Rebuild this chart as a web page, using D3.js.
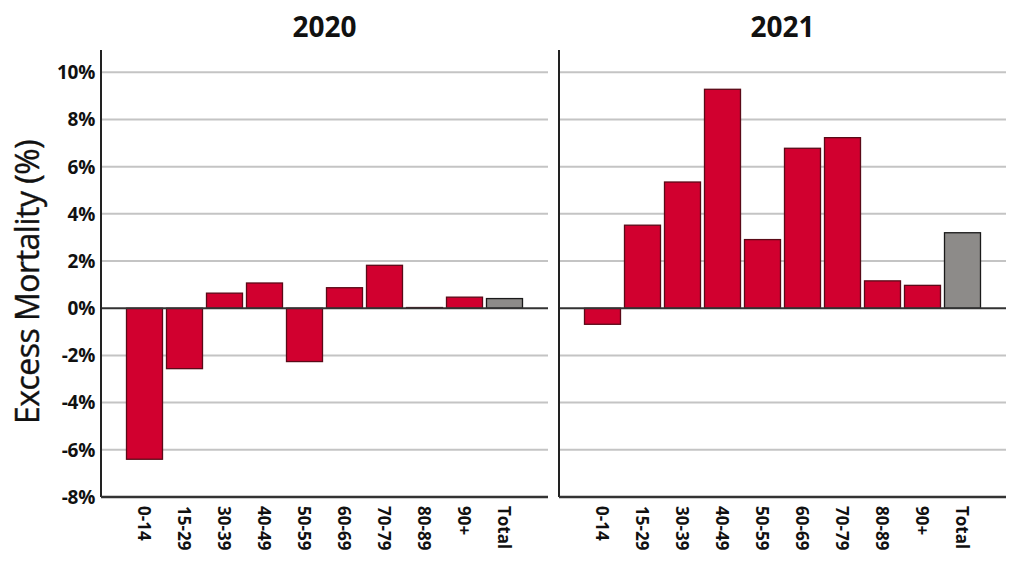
<!DOCTYPE html>
<html>
<head>
<meta charset="utf-8">
<script src="https://cdn.jsdelivr.net/npm/d3@7"></script>
<style>
  body { margin: 0; background: #fff; }
  text { font-family: "Open Sans", "Noto Sans", sans-serif; }
</style>
</head>
<body>
<div id="chart"></div>
<script>
const width = 1024;
const height = 573;

// data
const ageGroups = ["0-14", "15-29", "30-39", "40-49", "50-59", "60-69", "70-79", "80-89", "90+", "Total"];
const years = ["2020", "2021"];
const excess2020 = [-6.4, -2.56, 0.64, 1.07, -2.26, 0.87, 1.82, 0.03, 0.47, 0.41];
const excess2021 = [-0.68, 3.52, 5.35, 9.28, 2.91, 6.78, 7.23, 1.16, 0.97, 3.2];
const yTicks = [-8, -6, -4, -2, 0, 2, 4, 6, 8, 10];

const panelLeft = [101, 559];
const panelWidth = 447;
const plotTop = 50;
const plotBottom = 497;

const svg = d3.select("#chart").append("svg")
    .attr("width", width)
    .attr("height", height);

const y = d3.scaleLinear()
    .domain([-8, 10])
    .range([plotBottom, 72.3]);

// y axis labels (shared, left of first panel)
svg.append("g")
    .selectAll("text")
    .data(yTicks)
    .enter().append("text")
    .attr("x", 95)
    .attr("y", d => y(d))
    .attr("dy", "0.36em")
    .attr("text-anchor", "end")
    .style("font-size", "19px")
    .style("font-weight", "bold")
    .style("letter-spacing", "-0.3px")
    .style("fill", "#111")
    .text(d => d + "%");

svg.append("text")
    .attr("transform", "translate(39,282) rotate(-90)")
    .attr("text-anchor", "middle")
    .style("font-size", "32px")
    .style("fill", "#111")
    .style("stroke", "#111")
    .style("stroke-width", 0.4)
    .style("letter-spacing", "-0.5px")
    .text("Excess Mortality (%)");

const seriesByYear = [excess2020, excess2021];

years.forEach(function(year, i) {
    const x0 = panelLeft[i];
    const x = d3.scaleBand()
        .domain(ageGroups)
        .range([x0 + 23.5, x0 + panelWidth - 23.5])
        .paddingInner(0.1)
        .paddingOuter(0.05);

    const g = svg.append("g");

    // grid
    g.append("g")
        .selectAll("line")
        .data(yTicks.filter(d => d !== 0 && d !== -8))
        .enter().append("line")
        .attr("x1", x0)
        .attr("x2", x0 + panelWidth)
        .attr("y1", d => y(d))
        .attr("y2", d => y(d))
        .style("stroke", "#c4c4c4")
        .style("stroke-width", 2);

    const rows = ageGroups.map((a, j) => ({ group: a, value: seriesByYear[i][j] }));

    g.append("g")
        .selectAll("rect")
        .data(rows)
        .enter().append("rect")
        .attr("x", d => x(d.group))
        .attr("width", x.bandwidth())
        .attr("y", d => y(Math.max(0, d.value)))
        .attr("height", d => Math.abs(y(d.value) - y(0)))
        .style("fill", d => d.group === "Total" ? "#8d8b89" : "#d1002f")
        .style("stroke", d => d.group === "Total" ? "#1a1a1a" : "#5a0a18")
        .style("stroke-width", 1.3);

    // zero line
    g.append("line")
        .attr("x1", x0)
        .attr("x2", x0 + panelWidth)
        .attr("y1", y(0))
        .attr("y2", y(0))
        .style("stroke", "#333")
        .style("stroke-width", 2);

    // axis frame
    g.append("line")
        .attr("x1", x0).attr("x2", x0)
        .attr("y1", plotTop).attr("y2", plotBottom)
        .style("stroke", "#222")
        .style("stroke-width", 2);
    g.append("line")
        .attr("x1", x0).attr("x2", x0 + panelWidth)
        .attr("y1", plotBottom).attr("y2", plotBottom)
        .style("stroke", "#333")
        .style("stroke-width", 2.5);

    // x labels, rotated
    g.append("g")
        .selectAll("text")
        .data(ageGroups)
        .enter().append("text")
        .attr("transform", d => "translate(" + (x(d) + x.bandwidth() / 2) + ",506) rotate(90)")
        .attr("dy", "0.36em")
        .attr("text-anchor", "start")
        .style("font-size", "17px")
        .style("font-weight", "bold")
        .style("fill", "#111")
        .text(d => d);

    g.append("text")
        .attr("x", x0 + panelWidth / 2)
        .attr("y", 37)
        .attr("text-anchor", "middle")
        .style("font-size", "28px")
        .style("font-weight", "bold")
        .style("fill", "#111")
        .text(year);
});
</script>
</body>
</html>
